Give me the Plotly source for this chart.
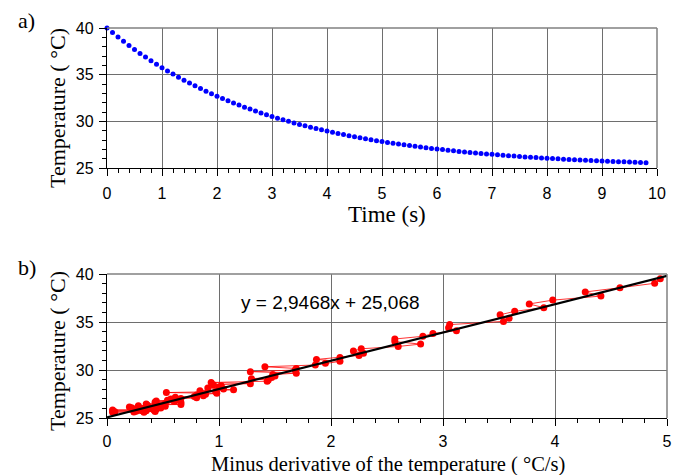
import plotly.graph_objects as go

# ---------------- data ----------------
time_s = [round(0.1 * i, 1) for i in range(99)]
temp_a = [40.00, 39.51, 39.03, 38.57, 38.13, 37.70, 37.28, 36.88, 36.49, 36.11,
          35.75, 35.40, 35.06, 34.73, 34.41, 34.10, 33.80, 33.51, 33.23, 32.96,
          32.70, 32.45, 32.21, 31.97, 31.74, 31.52, 31.31, 31.10, 30.90, 30.71,
          30.52, 30.34, 30.16, 30.00, 29.83, 29.67, 29.52, 29.37, 29.23, 29.09,
          28.96, 28.83, 28.70, 28.58, 28.46, 28.35, 28.24, 28.13, 28.03, 27.93,
          27.84, 27.74, 27.65, 27.57, 27.48, 27.40, 27.32, 27.25, 27.17, 27.10,
          27.03, 26.97, 26.90, 26.84, 26.78, 26.72, 26.66, 26.61, 26.56, 26.51,
          26.46, 26.41, 26.36, 26.32, 26.28, 26.23, 26.19, 26.15, 26.12, 26.08,
          26.04, 26.01, 25.98, 25.94, 25.91, 25.88, 25.86, 25.83, 25.80, 25.77,
          25.75, 25.72, 25.70, 25.68, 25.66, 25.63, 25.61, 25.59, 25.57]

minus_deriv = [4.94, 4.89, 4.58, 4.27, 4.41, 3.98, 3.77, 3.90, 3.64, 3.51,
               3.59, 3.54, 3.06, 3.05, 3.12, 2.91, 2.82, 2.57, 2.57, 2.80,
               2.60, 2.27, 2.20, 2.29, 2.25, 2.08, 1.87, 2.08, 1.95, 1.86,
               1.41, 1.69, 1.68, 1.28, 1.69, 1.48, 1.50, 1.47, 1.29, 1.44,
               1.43, 0.93, 1.28, 0.95, 1.02, 1.00, 0.90, 1.04, 1.13, 0.83,
               0.97, 0.53, 0.98, 0.88, 0.80, 0.86, 0.78, 0.61, 0.80, 0.66,
               0.57, 0.61, 0.54, 0.44, 0.60, 0.43, 0.66, 0.43, 0.52, 0.35,
               0.66, 0.36, 0.51, 0.28, 0.52, 0.35, 0.20, 0.43, 0.22, 0.48,
               0.30, 0.40, 0.25, 0.44, 0.23, 0.35, 0.05, 0.42, 0.30, 0.35,
               0.05, 0.26, 0.43, 0.07, 0.24, 0.33, 0.05]
temp_b = temp_a[1:1 + len(minus_deriv)]

fit_slope = 2.9468
fit_intercept = 25.068
fit_x = [0, 5]
fit_y = [fit_slope * x + fit_intercept for x in fit_x]

x_ticks_a = list(range(0, 11))
x_ticks_b = list(range(0, 6))
y_ticks = [25, 30, 35, 40]

# ---------------- figure ----------------
W, H = 685, 475
fig = go.Figure()

fig.add_trace(go.Scatter(x=time_s, y=temp_a, mode="markers",
                         marker=dict(color="#0000ff", size=5),
                         xaxis="x", yaxis="y", showlegend=False, cliponaxis=False))
fig.add_trace(go.Scatter(x=minus_deriv, y=temp_b, mode="lines+markers",
                         line=dict(color="#ff0000", width=0.8),
                         marker=dict(color="#ff0000", size=7),
                         xaxis="x2", yaxis="y2", showlegend=False))
fig.add_trace(go.Scatter(x=fit_x, y=fit_y, mode="lines",
                         line=dict(color="#000000", width=2.2),
                         xaxis="x2", yaxis="y2", showlegend=False))

def px_x(p):
    return p / W

def px_y(p):
    return 1 - p / H

tickfont = dict(family="Liberation Sans, Arial", size=16, color="#000")
common_x = dict(showgrid=True, gridcolor="#6e6e6e", gridwidth=1.3,
                showline=True, linecolor="#000", linewidth=1.3, mirror=False,
                ticks="outside", ticklen=7, tickcolor="#000", tickwidth=1.3,
                tickfont=tickfont, zeroline=False, fixedrange=True,
                automargin=False, ticklabelstandoff=4)
common_y = dict(showgrid=True, gridcolor="#6e6e6e", gridwidth=1.3,
                showline=True, linecolor="#000", linewidth=1.3,
                ticks="outside", ticklen=7, tickcolor="#000", tickwidth=1.3,
                tickfont=tickfont, zeroline=False, fixedrange=True,
                automargin=False, ticklabelstandoff=2,
                range=[25, 40], tickvals=y_ticks,
                minor=dict(dtick=1, ticks="outside", ticklen=4, tickcolor="#000",
                           showgrid=False))

fig.update_layout(
    template="none",
    width=W, height=H,
    margin=dict(l=0, r=0, t=0, b=0),
    paper_bgcolor="white", plot_bgcolor="white",
    xaxis=dict(common_x, domain=[px_x(107), px_x(657)], range=[0, 10],
               tickvals=x_ticks_a, anchor="y",
               minor=dict(dtick=0.2, ticks="outside", ticklen=4, tickcolor="#000",
                          showgrid=False)),
    yaxis=dict(common_y, domain=[px_y(168), px_y(28)], anchor="x"),
    xaxis2=dict(common_x, domain=[px_x(107), px_x(667)], range=[0, 5],
                tickvals=x_ticks_b, anchor="y2", ticklabelstandoff=2,
                minor=dict(dtick=0.2, ticks="outside", ticklen=4, tickcolor="#000",
                           showgrid=False)),
    yaxis2=dict(common_y, domain=[px_y(418), px_y(274)], anchor="x2"),
)

# top / right gray borders
for xr, (y0, y1) in [((107, 657), (28, 168)), ((107, 667), (274, 418))]:
    fig.add_shape(type="line", xref="paper", yref="paper",
                  x0=px_x(xr[0]), x1=px_x(xr[1]), y0=px_y(y0), y1=px_y(y0),
                  line=dict(color="#808080", width=1.5))
    fig.add_shape(type="line", xref="paper", yref="paper",
                  x0=px_x(xr[1]), x1=px_x(xr[1]), y0=px_y(y0), y1=px_y(y1),
                  line=dict(color="#808080", width=1.5))

serif = "Liberation Serif, Times New Roman"
ann = [
    dict(text="a)", x=px_x(26), y=px_y(20), font=dict(family=serif, size=22, color="#000")),
    dict(text="b)", x=px_x(27), y=px_y(267), font=dict(family=serif, size=22, color="#000")),
    dict(text="Time (s)", x=px_x(387), y=px_y(214), font=dict(family=serif, size=23, color="#000")),
    dict(text="Minus derivative of the temperature ( °C/s)", x=px_x(388), y=px_y(464),
         font=dict(family=serif, size=20.5, color="#000")),
    dict(text="Temperature ( °C)", x=px_x(58), y=px_y(108), textangle=-90,
         font=dict(family=serif, size=22, color="#000")),
    dict(text="Temperature ( °C)", x=px_x(57), y=px_y(351), textangle=-90,
         font=dict(family=serif, size=22, color="#000")),
    dict(text="y = 2,9468x + 25,068", x=px_x(330), y=px_y(302),
         font=dict(family="Liberation Sans, Arial", size=19, color="#000")),
]
for a in ann:
    fig.add_annotation(xref="paper", yref="paper", showarrow=False,
                       xanchor="center", yanchor="middle", **a)

fig.write_html("out.html", config={"displayModeBar": False},
               post_script="document.body.style.margin='0';document.body.style.overflow='hidden';")
